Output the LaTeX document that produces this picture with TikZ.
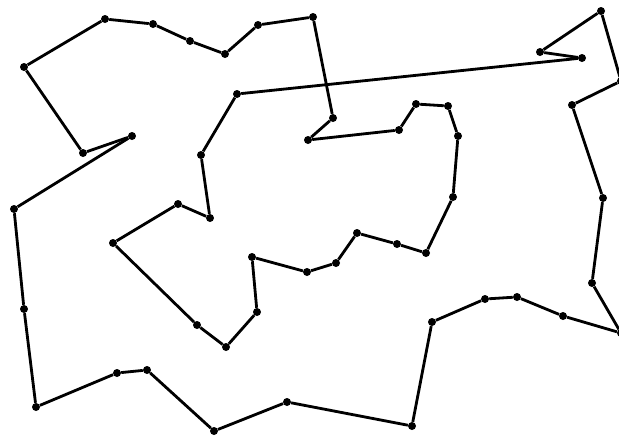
\documentclass[tikz,border=0pt]{standalone}
\usepackage{tikz}

\begin{document}
\begin{tikzpicture}[
    x=0.03cm, y=-0.03cm,
    city/.style={circle, fill=black, inner sep=0pt, minimum size=0.24cm},
    tour/.style={line width=2.4pt, black}
]
\useasboundingbox (0,0) rectangle (619,435);
\clip (0,0) rectangle (619,435);
% cities, in tour order
\foreach \x/\y [count=\i] in {24/67, 105/19, 153/24, 190/41, 225/54, 258/25,
    313/17, 333/118, 308/140, 399/130, 416/104, 448/106, 458/136, 453/197,
    426/253, 397/244, 357/233, 336/263, 307/272, 252/257, 257/312, 226/347,
    197/325, 113/243, 178/204, 210/218, 201/155, 237/94, 582/58, 540/52,
    601/11, 621/81, 572/105, 603/198, 592/283, 621/333, 563/316, 517/297,
    485/299, 432/322, 412/426, 287/402, 214/431, 147/370, 117/373, 36/407,
    24/309, 14/209, 132/136, 83/153}
    \node[city] (c\i) at (\x,\y) {};
% closed tour
\foreach \i [remember=\i as \j (initially 50)] in {1,...,50}
    \draw[tour] (c\j) -- (c\i);
\end{tikzpicture}
\end{document}
